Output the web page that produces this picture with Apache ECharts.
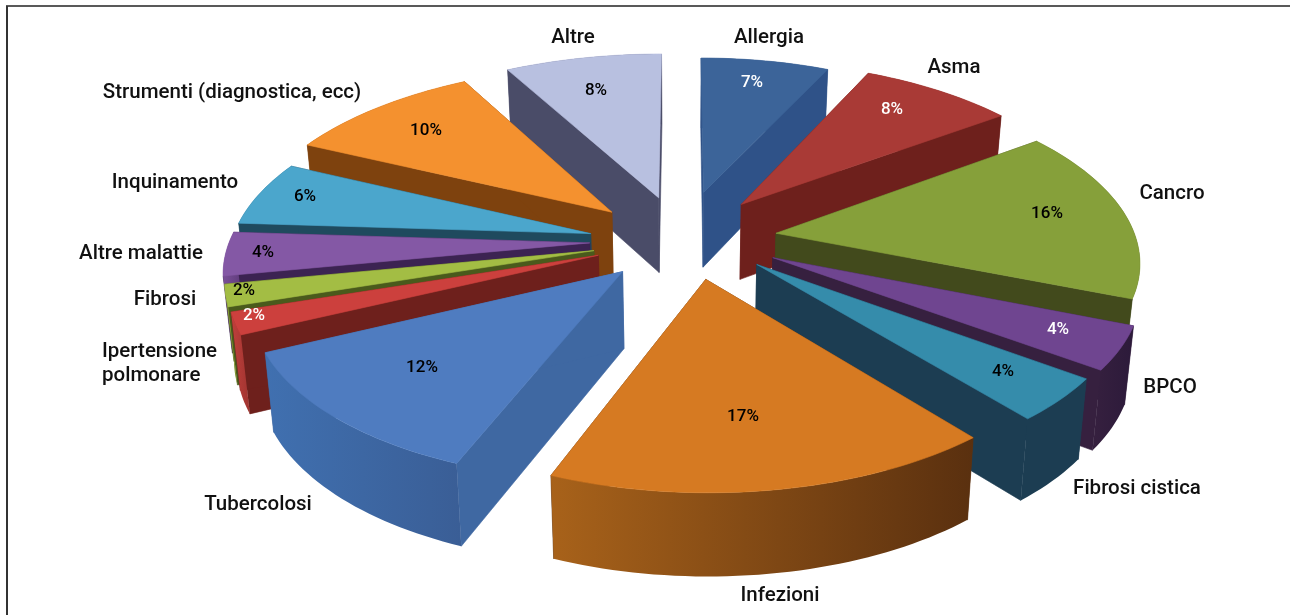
<!DOCTYPE html>
<html><head><meta charset="utf-8">
<script src="https://cdn.jsdelivr.net/npm/echarts@6/dist/echarts.min.js"></script>
<style>html,body{margin:0;padding:0;background:#fff}#c{width:1290px;height:615px}</style>
</head><body><div id="c"></div>
<script>
const categories = ['Allergia','Asma','Cancro','BPCO','Fibrosi cistica','Infezioni','Tubercolosi','Ipertensione\npolmonare','Fibrosi','Altre malattie','Inquinamento','Strumenti (diagnostica, ecc)','Altre'];
const shares = [7,8,16,4,4,17,12,2,2,4,6,10,8];
const topColors = ['#3C6499','#A93A36','#86A03A','#6F4590','#358CAB','#D67A22','#4F7CC0','#CC403D','#A3BD44','#8458A5','#4BA6CC','#F4912F','#B8C0E0'];
const wallColors = ['#2F5288','#6E201C','#424A1C','#36203F','#1C3D52','#5E3210','#3F68A2','#6E201C','#4A5A1C','#3C2352','#1F4A5E','#7E420E','#4A4C68'];
const rimLight = ['#2F5288','#6E201C','#424A1C','#36203F','#1C3D52','#A8621A','#4070B0','#C0403C','#98B03E','#7A5098','#1F4A5E','#7E420E','#4A4C68'];
const rimDark = ['#2F5288','#6E201C','#424A1C','#2C1A3A','#1C3D52','#5A300F','#3A5E96','#A03430','#7E9432','#5E3A7A','#1F4A5E','#7E420E','#4A4C68'];
const percentColors = ['#fff','#fff','#000','#fff','#000','#000','#000','#fff','#000','#000','#000','#000','#000'];

// label anchors of the picture, kept apart from the values
const nameAnchors = [[769,38,'center'],[954,68,'center'],[1172,194,'center'],[1170,388,'center'],[1137,489,'center'],[780,596,'center'],[258,505,'center'],[102,364,'left'],[165,300,'center'],[141,254,'center'],[175,183,'center'],[232,93,'center'],[573,38,'center']];
const percentAnchors = [[752,83],[892,110],[1047,214],[1058,330],[1003,372],[743,417],[422,368],[254,316],[244,291],[263,253],[305,197],[426,131],[596,91]];

// projection of the tilted, exploded disc
const view = {cx:688, cy:238, rx:360, ry:171, persp:0.14, explode:0.27, depth:76, lean:0.02};
// per-slice [dx, dy, radial scale] fitted by eye to the drawing's uneven explosion
const sliceTweak = [[-5,-2,0.955],[-7,1,1.01],[-8,1,1],[-2,-3,0.99],[-4,-6,0.99],[2,-6,0.99],[3,-1,0.99],[2,0,1],[1,1,1],[-1,2,1],[-4,7,1],[-7,5,1.03],[-6,3,1.03]];
const total = shares.reduce((a,b)=>a+b,0);
const spans = []; let acc = 0;
shares.forEach(v=>{const a0=acc/total*2*Math.PI; acc+=v; spans.push([a0,acc/total*2*Math.PI]);});
function project(X,Y,drop){
  const s=1/(1+view.persp*Y);
  return [view.cx+view.rx*X*s*(1-view.lean*drop), view.cy-view.ry*Y*s+drop*view.depth*Math.sqrt(s)];
}
function pointsOf(i,drop){
  const [a0,a1]=spans[i], m=(a0+a1)/2, [dx,dy,k]=sliceTweak[i];
  const ox=view.explode*Math.sin(m), oy=view.explode*Math.cos(m);
  const at=(X,Y)=>{const p=project(X,Y,drop);return [p[0]+dx,p[1]+dy];};
  const arc=[]; const n=Math.max(8,Math.round((a1-a0)*40));
  for(let j=0;j<=n;j++){const a=a0+(a1-a0)*j/n; arc.push(at(ox+k*Math.sin(a),oy+k*Math.cos(a)));}
  return {tip:at(ox,oy),arc};
}
const midCos=i=>Math.cos((spans[i][0]+spans[i][1])/2);
const order = shares.map((_,i)=>i).sort((p,q)=>midCos(q)-midCos(p));

function poly(points,fill,stroke){return {type:'polygon',shape:{points},style:{fill,stroke:stroke||fill,lineWidth:0.6},silent:true};}
function renderItem(params,api){
  const i=api.value(0);
  const t=pointsOf(i,0), b=pointsOf(i,1);
  const first=t.arc[0], last=t.arc[t.arc.length-1];
  const bFirst=b.arc[0], bLast=b.arc[b.arc.length-1];
  const children=[];
  children.push(poly([t.tip,first,bFirst,b.tip],wallColors[i]));
  children.push(poly([t.tip,last,bLast,b.tip],wallColors[i]));
  const grad={type:'linear',x:0,y:0,x2:1,y2:0,colorStops:[{offset:0,color:rimLight[i]},{offset:1,color:rimDark[i]}]};
  children.push(poly(t.arc.concat(b.arc.slice().reverse()),grad,'none'));
  children.push(poly([t.tip].concat(t.arc),topColors[i]));
  return {type:'group',children};
}
const font='"Roboto","Liberation Sans",sans-serif';
function nameLabels(){
  return categories.map((n,i)=>({type:'text',silent:true,z:20,style:{text:n,x:nameAnchors[i][0],y:nameAnchors[i][1],align:nameAnchors[i][2],verticalAlign:'middle',fill:'#111',font:'500 20.5px '+font,lineHeight:24}}));
}
function pctLabels(){
  return shares.map((v,i)=>({type:'text',silent:true,z:20,style:{text:v+'%',x:percentAnchors[i][0],y:percentAnchors[i][1],align:'center',verticalAlign:'middle',fill:percentColors[i],font:'500 17px '+font}}));
}
const frame=[
  {type:'line',silent:true,z:1,shape:{x1:6,y1:6,x2:1290,y2:6},style:{stroke:'#222',lineWidth:1.5}},
  {type:'line',silent:true,z:1,shape:{x1:7,y1:6,x2:7,y2:615},style:{stroke:'#333',lineWidth:2}}
];
const chart=echarts.init(document.getElementById('c'),null,{renderer:'canvas'});
chart.setOption({
  animation:false,
  backgroundColor:'#fff',
  graphic:frame.concat(nameLabels(),pctLabels()),
  series:[{type:'custom',coordinateSystem:'none',renderItem,silent:true,data:order.map(i=>[i,shares[i],categories[i]]),encode:{value:0},z:5}]
});
</script></body></html>
